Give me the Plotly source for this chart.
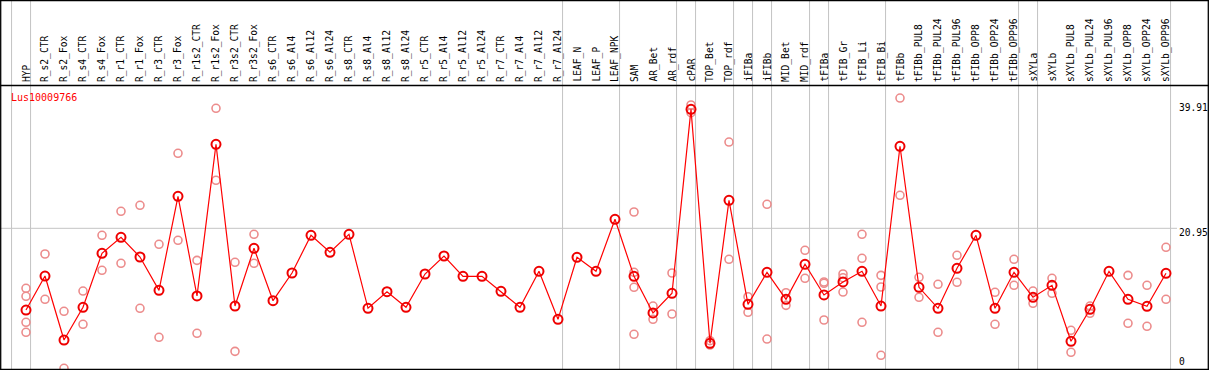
import plotly.graph_objects as go

categories = ["HYP", "R_s2_CTR", "R_s2_Fox", "R_s4_CTR", "R_s4_Fox", "R_r1_CTR", "R_r1_Fox",
              "R_r3_CTR", "R_r3_Fox", "R_r1s2_CTR", "R_r1s2_Fox", "R_r3s2_CTR", "R_r3s2_Fox",
              "R_s6_CTR", "R_s6_Al4", "R_s6_Al12", "R_s6_Al24", "R_s8_CTR", "R_s8_Al4",
              "R_s8_Al12", "R_s8_Al24", "R_r5_CTR", "R_r5_Al4", "R_r5_Al12", "R_r5_Al24",
              "R_r7_CTR", "R_r7_Al4", "R_r7_Al12", "R_r7_Al24", "LEAF_N", "LEAF_P", "LEAF_NPK",
              "SAM", "AR_Bet", "AR_rdf", "cPAR", "TOP_Bet", "TOP_rdf", "iFIBa", "iFIBb",
              "MID_Bet", "MID_rdf", "tFIBa", "tFIB_Gr", "tFIB_Li", "tFIB_Bi", "tFIBb",
              "tFIBb_PUL8", "tFIBb_PUL24", "tFIBb_PUL96", "tFIBb_OPP8", "tFIBb_OPP24",
              "tFIBb_OPP96", "sXYLa", "sXYLb", "sXYLb_PUL8", "sXYLb_PUL24", "sXYLb_PUL96",
              "sXYLb_OPP8", "sXYLb_OPP24", "sXYLb_OPP96"]

mean_values = [7.93, 13.35, 3.15, 8.37, 16.97, 19.52, 16.38, 11.07, 26.05, 10.17, 34.34, 8.57,
               17.77, 9.42, 13.83, 19.84, 17.13, 20.0, 8.21, 10.85, 8.37, 13.67, 16.54, 13.30,
               13.30, 10.91, 8.37, 14.10, 6.45, 16.33, 14.10, 22.39, 13.30, 7.46, 10.60, 39.91,
               2.63, 25.41, 8.84, 13.94, 9.64, 15.22, 10.33, 12.40, 14.10, 8.57, 34.02, 11.55,
               8.21, 14.58, 19.84, 8.21, 13.94, 9.96, 11.87, 2.95, 8.05, 14.10, 9.64, 8.52, 13.78]

rep_categories = ["HYP", "HYP", "HYP", "HYP", "R_s2_CTR", "R_s2_CTR", "R_s2_Fox", "R_s2_Fox",
                  "R_s4_CTR", "R_s4_CTR", "R_s4_Fox", "R_s4_Fox", "R_r1_CTR", "R_r1_CTR",
                  "R_r1_Fox", "R_r1_Fox", "R_r3_CTR", "R_r3_CTR", "R_r3_Fox", "R_r3_Fox",
                  "R_r1s2_CTR", "R_r1s2_CTR", "R_r1s2_Fox", "R_r1s2_Fox", "R_r3s2_CTR",
                  "R_r3s2_CTR", "R_r3s2_Fox", "R_r3s2_Fox", "SAM", "SAM", "SAM", "SAM",
                  "AR_Bet", "AR_Bet", "AR_rdf", "AR_rdf", "cPAR", "cPAR", "TOP_Bet", "TOP_Bet",
                  "TOP_rdf", "TOP_rdf", "iFIBa", "iFIBa", "iFIBb", "iFIBb", "MID_Bet", "MID_Bet",
                  "MID_rdf", "MID_rdf", "tFIBa", "tFIBa", "tFIBa", "tFIB_Gr", "tFIB_Gr", "tFIB_Gr",
                  "tFIB_Li", "tFIB_Li", "tFIB_Li", "tFIB_Bi", "tFIB_Bi", "tFIB_Bi", "tFIBb", "tFIBb",
                  "tFIBb_PUL8", "tFIBb_PUL8", "tFIBb_PUL24", "tFIBb_PUL24", "tFIBb_PUL96",
                  "tFIBb_PUL96", "tFIBb_OPP24", "tFIBb_OPP24", "tFIBb_OPP96", "tFIBb_OPP96",
                  "sXYLa", "sXYLa", "sXYLb", "sXYLb", "sXYLb_PUL8", "sXYLb_PUL8", "sXYLb_PUL24",
                  "sXYLb_PUL24", "sXYLb_OPP8", "sXYLb_OPP8", "sXYLb_OPP24", "sXYLb_OPP24",
                  "sXYLb_OPP96", "sXYLb_OPP96"]

rep_values = [11.39, 10.12, 5.98, 4.38, 16.86, 9.64, 7.73, -1.35,
              10.96, 5.66, 19.84, 14.26, 23.66, 15.38,
              24.62, 8.21, 18.40, 3.59, 32.90, 19.04,
              15.85, 4.22, 40.07, 28.60, 15.54,
              1.35, 20.0, 15.38, 23.55, 13.94, 11.55, 4.06,
              8.57, 6.45, 13.83, 7.30, 40.60, 39.37, 3.04, 2.36,
              34.70, 16.01, 10.05, 7.57, 24.78, 3.31, 10.69, 8.68,
              17.45, 12.99, 12.40, 12.19, 6.34, 13.67, 13.08, 10.80,
              20.0, 16.17, 5.98, 13.46, 11.60, 0.72, 41.71, 26.21,
              13.15, 9.96, 12.03, 4.38, 16.65,
              12.35, 10.76, 5.66, 16.01, 11.87,
              10.96, 9.00, 12.99, 10.60, 4.70, 1.20, 8.57,
              7.41, 13.46, 5.82, 11.87, 5.34,
              17.93, 9.64]

# groups end after these categories (vertical separators)
group_ends = ["HYP", "R_r7_Al24", "LEAF_NPK", "AR_rdf", "cPAR", "TOP_rdf", "iFIBa", "iFIBb",
              "MID_rdf", "tFIBa", "tFIB_Bi", "tFIBb_OPP96", "sXYLa", "sXYLb_OPP96"]

axis_ticks = [0, 20.95, 39.91]
axis_labels = ["0", "20.95", "39.91"]
title_text = "Lus10009766"

idx = {c: i for i, c in enumerate(categories)}
xs = list(range(len(categories)))
rep_x = [idx[c] for c in rep_categories]

W, H = 1209, 370
X0, XSTEP = 26.0, 19.0
xr = [(0 - X0) / XSTEP, (W - X0) / XSTEP]
yr = [-1.625, 57.33]

FONT = "DejaVu Sans Mono"

fig = go.Figure()
fig.add_trace(go.Scatter(
    x=rep_x, y=rep_values, mode="markers",
    marker=dict(symbol="circle-open", size=8, color="rgb(236,140,140)",
                line=dict(width=1.6, color="rgb(236,140,140)")),
    hoverinfo="skip", showlegend=False, cliponaxis=True))
fig.add_trace(go.Scatter(
    x=xs, y=mean_values, mode="lines+markers",
    line=dict(color="#ff0000", width=1.2),
    marker=dict(symbol="circle-open", size=9, color="#ee0000",
                line=dict(width=2, color="#ee0000")),
    showlegend=False, cliponaxis=True))

shapes = []
gray = "#c4c4c4"
for c in ["__start__"] + group_ends:
    gx = (-1 if c == "__start__" else idx[c]) + 0.24
    shapes.append(dict(type="line", xref="x", yref="paper", x0=gx, x1=gx, y0=0, y1=1,
                       line=dict(color=gray, width=1), layer="below"))
shapes.append(dict(type="line", xref="x", yref="y", x0=xr[0], x1=(1177 - X0) / XSTEP,
                   y0=axis_ticks[1], y1=axis_ticks[1], line=dict(color=gray, width=1),
                   layer="below"))


def px_y(p):
    return 1 - p / H


for y in [0.6, 85.5, 369.3]:
    shapes.append(dict(type="line", xref="paper", yref="paper", x0=0, x1=1,
                       y0=px_y(y), y1=px_y(y), line=dict(color="black", width=1.3)))
for x in [0.7, 1208.3]:
    shapes.append(dict(type="line", xref="paper", yref="paper", x0=x / W, x1=x / W,
                       y0=0, y1=1, line=dict(color="black", width=1.3)))

annotations = []
for i, c in enumerate(categories):
    annotations.append(dict(x=i, y=px_y(83), xref="x", yref="paper", text=c,
                            textangle=-90, xanchor="center", yanchor="bottom",
                            showarrow=False, borderpad=0,
                            font=dict(family=FONT, size=9.6, color="black")))
shifts = [-2, -3.7, 2.3]
for v, t, s in zip(axis_ticks, axis_labels, shifts):
    annotations.append(dict(x=1178 / W, y=v, xref="paper", yref="y", text=t,
                            xanchor="left", yanchor="middle", yshift=s, showarrow=False,
                            borderpad=0, font=dict(family=FONT, size=9.6, color="black")))
annotations.append(dict(x=10 / W, y=px_y(97), xref="paper", yref="paper", text=title_text,
                        xanchor="left", yanchor="middle", showarrow=False, borderpad=0,
                        font=dict(family=FONT, size=10, color="#ff0000")))

fig.update_layout(
    width=W, height=H, autosize=False,
    margin=dict(l=0, r=0, t=0, b=0, pad=0),
    paper_bgcolor="white", plot_bgcolor="white",
    xaxis=dict(range=xr, visible=False, fixedrange=True),
    yaxis=dict(range=yr, visible=False, fixedrange=True),
    shapes=shapes, annotations=annotations, showlegend=False,
)
fig.write_html("out.html", config={"displayModeBar": False},
               post_script="document.body.style.margin='0';document.body.style.overflow='hidden';")
